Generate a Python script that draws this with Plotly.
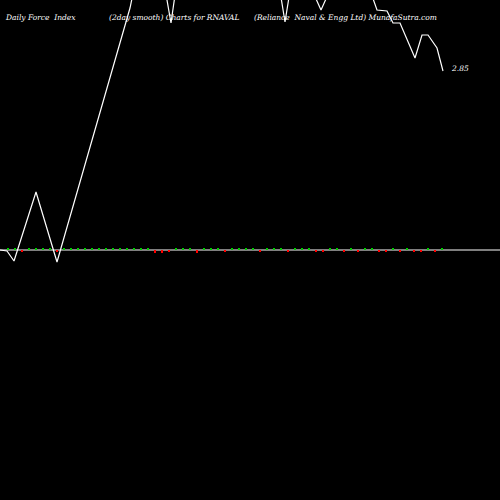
import plotly.graph_objects as go

# smoothed force index line (scaled units, 0 = zero line)
line_x = [0, 7, 14, 36, 57, 130, 140, 160, 171, 180, 275, 285, 295, 312, 321, 330, 370, 377, 387, 393, 400, 415, 422, 428, 437, 443]
line_y = [0, -1, -11, 58, -12, 242, 290, 290, 227, 290, 290, 228, 290, 260, 240, 260, 260, 240, 239, 227, 227, 192, 215, 215, 202, 179]

# daily force index bars
bar_x = list(range(8, 450, 7))
bar_y = [1.5, 1.5, -1.5, 1.5, 1.5, 1.5, 1.5, -1.5, 1.5, 1.5, 1.5, 1.5, 1.5, 1.5, 1.5, 1.5, 1.5, 1.5, 1.5, 1.5, 1.5, -3, -2.5, -1.5, 2.5, 1.5, 1.5, -2.5, 1.5, 2.5, 1.5,
         -1.5, 1.5, 1.5, 1.5, 1.5, -1.5, 1.5, 1.5, 1.5, -1.5, 1.5, 1.5, 1.5, -1.5, -1.5, 1.5, 1.5, -1.5, 1.5, -1.5, 1.5, 1.5, -1.5, -1.5, 1.5, -1.5, 1.5, -1.5, -1.5, 1.5, -1.5, 1.5][:len(bar_x)]
bar_col = ["#00cc00" if v > 0 else "#ff0000" for v in bar_y]

fig = go.Figure()
fig.add_trace(go.Bar(x=bar_x, y=bar_y, marker_color=bar_col, width=2.5, marker_line_width=0))
fig.add_hline(y=0, line_color="#aaaaaa", line_width=1.5, layer="below")
fig.add_trace(go.Scatter(x=line_x, y=line_y, mode="lines", line=dict(color="white", width=1.2)))

fnt = dict(family="DejaVu Serif", size=7.5, color="white")
for x, t in [(3, "Daily Force  Index"), (107, "(2day smooth) Charts for RNAVAL"), (252, "(Reliance  Naval & Engg Ltd) MunafaSutra.com")]:
    fig.add_annotation(x=x, y=250 - 17, text=f"<i>{t}</i>", showarrow=False, xanchor="left", font=fnt)
fig.add_annotation(x=449, y=250 - 68, text="<i>2.85</i>", showarrow=False, xanchor="left", font=fnt)

fig.update_layout(width=500, height=500, margin=dict(l=0, r=0, t=0, b=0),
                  paper_bgcolor="black", plot_bgcolor="black", showlegend=False, bargap=0)
fig.update_xaxes(range=[0, 500], visible=False)
fig.update_yaxes(range=[-250, 250], visible=False)
fig.write_html("out.html", config={"displayModeBar": False},
               post_script="document.body.style.margin='0';document.body.style.background='black';")
